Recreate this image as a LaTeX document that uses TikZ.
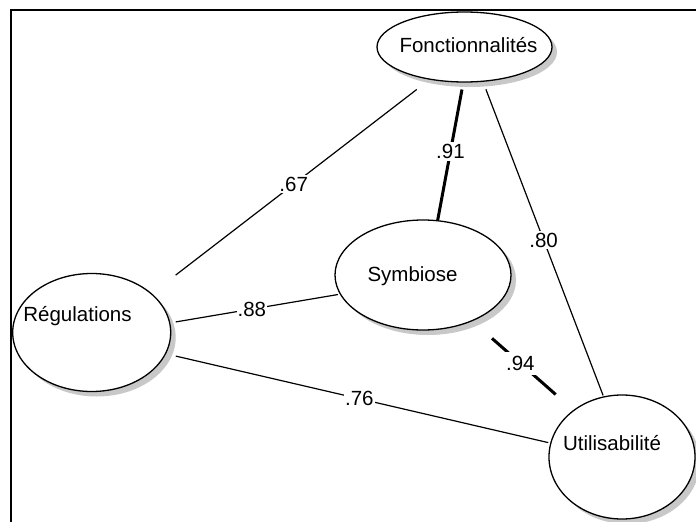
\documentclass[tikz,border=0pt]{standalone}
\usepackage{fontspec}
\setmainfont{Liberation Sans}
\usetikzlibrary{shapes.geometric,shadows}
\definecolor{shadowgray}{HTML}{C8C8C8}
\begin{document}
\begin{tikzpicture}[x=1pt,y=-1pt,
  var/.style={ellipse,draw=black,line width=1.3pt,fill=white,inner sep=0pt,
    drop shadow={shadow xshift=5pt,shadow yshift=-5pt,fill=shadowgray,opacity=1}},
  lbl/.style={font=\fontsize{20.5}{24}\selectfont,inner sep=0pt},
  coef/.style={fill=white,inner sep=2pt,font=\fontsize{20.5}{24}\selectfont},
  conn/.style={line width=1.2pt},
  connthick/.style={line width=3pt}]
\useasboundingbox (0,0) rectangle (696,522);
% frame
\draw[line width=1.5pt] (11,540) -- (11,10) -- (710,10);
% latent variables
\node[var,minimum width=175pt,minimum height=70pt] (F) at (464.5,47) {};
\node[var,minimum width=176pt,minimum height=110pt] (S) at (423,275) {};
\node[var,minimum width=158pt,minimum height=118pt] (R) at (91.7,332.5) {};
\node[var,minimum width=146pt,minimum height=124pt] (U) at (622,457) {};
\node[lbl,anchor=base] (Ft) at (468.5,52.7) {Fonctionnalités};
\node[lbl,anchor=base] (St) at (412.5,281.7) {Symbiose};
\node[lbl,anchor=base] (Rt) at (77.5,321.7) {Régulations};
\node[lbl,anchor=base] (Ut) at (612,450) {Utilisabilité};
% correlations
\draw[conn,shorten <=16pt,shorten >=30pt] (F.-137.2) -- node[coef,pos=0.489] (c67) {.67} (R.33.4);
\draw[connthick,shorten <=7pt] (F.-92) -- node[coef,pos=0.5] (c91) {.91} (S.75.5);
\draw[conn,shorten <=8pt,shorten >=1pt] (F.-62.9) -- node[coef,pos=0.503] (c80) {.80} (U.107.2);
\draw[conn,shorten <=5.5pt,shorten >=2pt] (R.7.2) -- node[coef,pos=0.481,inner sep=1pt] (c88) {.88} (S.193.5);
\draw[conn,shorten <=10pt,shorten >=2pt] (R.-16.6) -- node[coef,pos=0.503,inner sep=1pt] (c76) {.76} (U.169.2);
\draw[connthick,shorten <=26pt,shorten >=23.5pt] (S.-43.3) -- node[coef,pos=0.4745,inner sep=4.5pt] (c94) {.94} (U.136.2);
\end{tikzpicture}
\end{document}
